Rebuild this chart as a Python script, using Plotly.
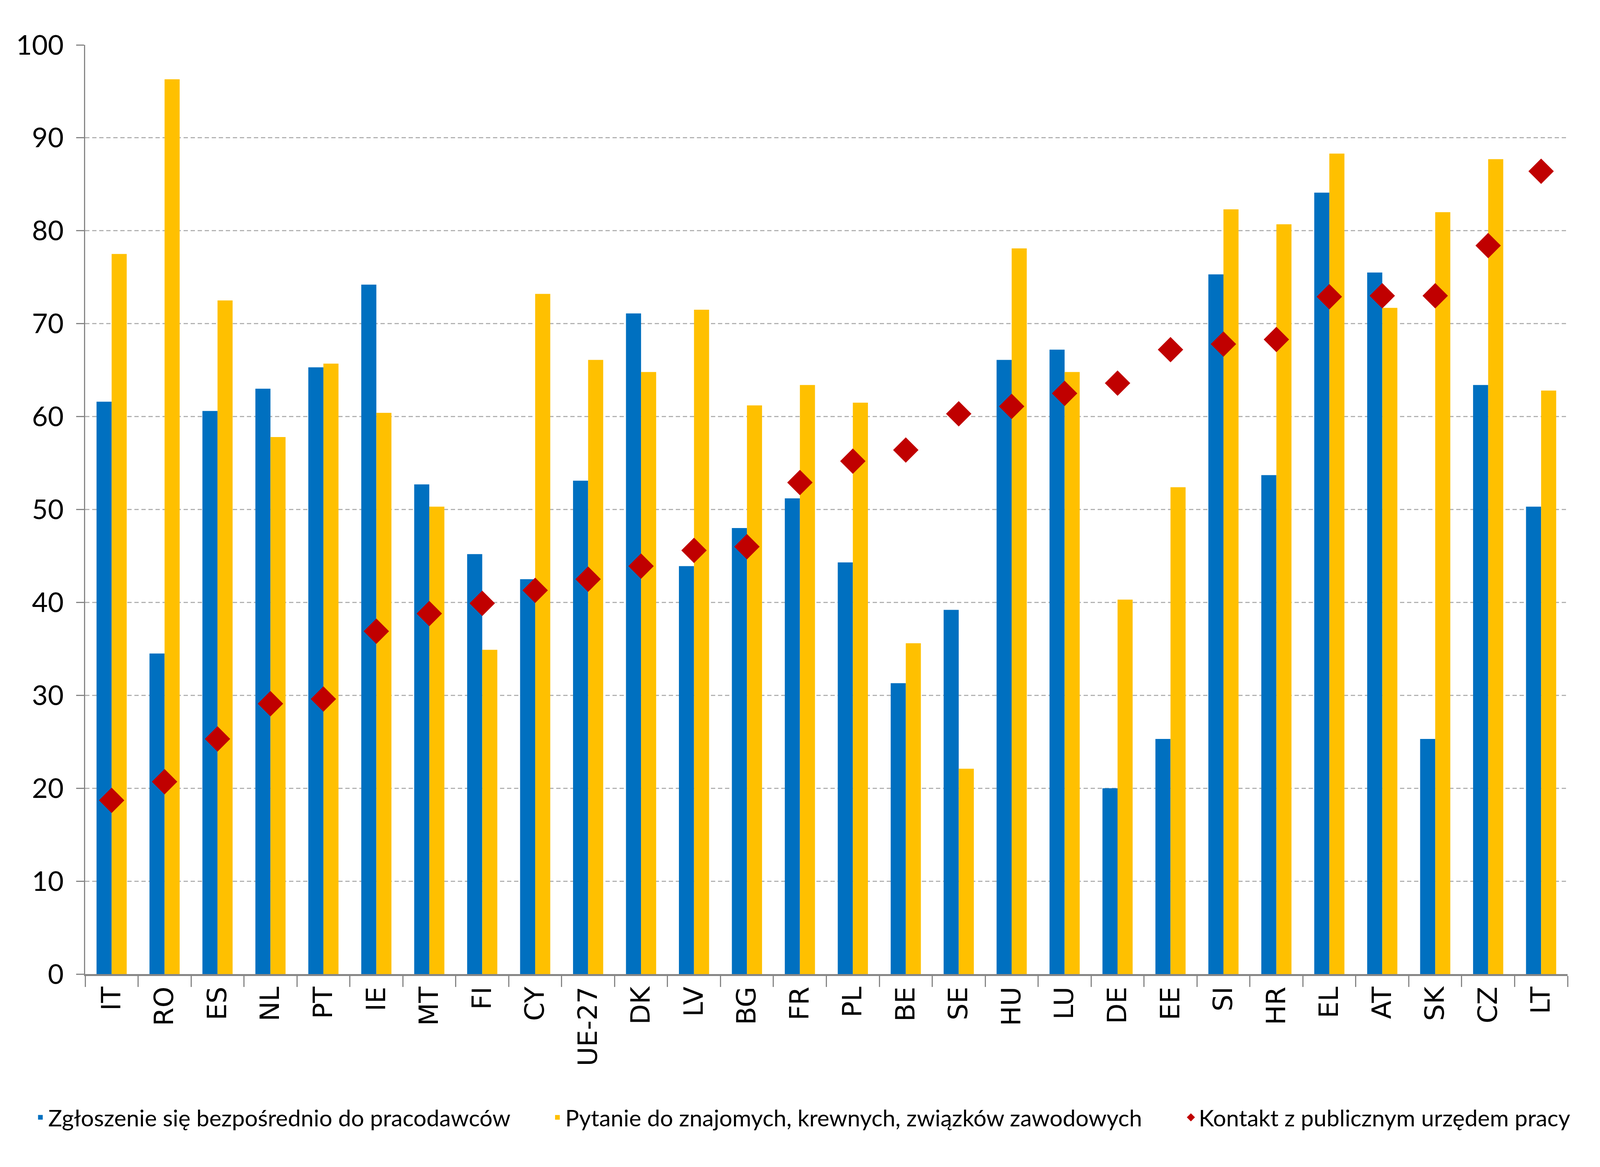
import plotly.graph_objects as go

categories = ["IT", "RO", "ES", "NL", "PT", "IE", "MT", "FI", "CY", "UE-27", "DK", "LV", "BG", "FR",
              "PL", "BE", "SE", "HU", "LU", "DE", "EE", "SI", "HR", "EL", "AT", "SK", "CZ", "LT"]

employers = [61.6, 34.5, 60.6, 63.0, 65.3, 74.2, 52.7, 45.2, 42.5, 53.1, 71.1, 43.9, 48.0, 51.2,
             44.3, 31.3, 39.2, 66.1, 67.2, 20.0, 25.3, 75.3, 53.7, 84.1, 75.5, 25.3, 63.4, 50.3]

friends = [77.5, 96.3, 72.5, 57.8, 65.7, 60.4, 50.3, 34.9, 73.2, 66.1, 64.8, 71.5, 61.2, 63.4,
           61.5, 35.6, 22.1, 78.1, 64.8, 40.3, 52.4, 82.3, 80.7, 88.3, 71.7, 82.0, 87.7, 62.8]

public_office = [18.7, 20.7, 25.3, 29.1, 29.6, 36.9, 38.8, 39.9, 41.3, 42.5, 43.9, 45.6, 46.0, 52.9,
                 55.2, 56.4, 60.3, 61.1, 62.5, 63.6, 67.2, 67.8, 68.3, 72.9, 73.0, 73.0, 78.4, 86.4]

names = ["Zgłoszenie się bezpośrednio do pracodawców",
         "Pytanie do znajomych, krewnych, związków zawodowych",
         "Kontakt z publicznym urzędem pracy"]

# reference geometry (5530 x 2988) mapped onto the visible page area
REF_W, REF_H = 5530, 2988
W, H = 4080, 2960
SX, SY = W / REF_W, H / REF_H

FONT = "Lato"

fig = go.Figure()
fig.add_trace(go.Bar(x=categories, y=employers, name=names[0], marker_color="#0070C0",
                     marker_line_width=0, legend="legend", showlegend=True))
fig.add_trace(go.Bar(x=categories, y=friends, name=names[1], marker_color="#FFC000",
                     marker_line_width=0, legend="legend2", showlegend=True))
fig.add_trace(go.Scatter(x=categories, y=public_office, name=names[2], mode="markers",
                         marker=dict(symbol="diamond", size=50, color="#C00000", line_width=0),
                         legend="legend3", showlegend=True))

def leg_x(text_start_ref):
    return (text_start_ref / REF_W * W - 50) / W

leg_common = dict(orientation="h", yanchor="middle", xanchor="left",
                  xref="container", yref="container", y=1 - 2880 / REF_H,
                  font=dict(family=FONT, size=59, color="black"),
                  bgcolor="rgba(0,0,0,0)", borderwidth=0, itemsizing="trace")

fig.update_layout(
    width=W, height=H,
    margin=dict(l=round(284 * SX), r=round(101 * SX), t=round(108 * SY), b=round(478 * SY),
                autoexpand=False),
    paper_bgcolor="white", plot_bgcolor="white",
    barmode="group", bargap=0.43, bargroupgap=0,
    showlegend=True,
    font=dict(family=FONT, color="black"),
    legend=dict(x=leg_x(170), **leg_common),
    legend2=dict(x=leg_x(1964), **leg_common),
    legend3=dict(x=leg_x(4162), **leg_common),
    xaxis=dict(
        type="category", range=[-0.5, len(categories) - 0.5],
        tickangle=-90, tickfont=dict(family="DejaVu Sans", size=68, color="black"),
        showline=True, linecolor="#868686", linewidth=5,
        ticks="outside", tickson="boundaries", ticklen=28, tickwidth=3, tickcolor="#868686",
        showgrid=False, zeroline=False,
    ),
    yaxis=dict(
        range=[0, 100], dtick=10, tick0=0,
        tickfont=dict(family=FONT, size=70, color="black"),
        showline=True, linecolor="#868686", linewidth=3,
        ticks="outside", ticklen=20, tickwidth=3, tickcolor="#868686",
        showgrid=True, gridcolor="#b3b3b3", gridwidth=3, griddash="11px,7px",
        zeroline=False, ticklabelstandoff=18,
    ),
)

fig.write_html("out.html")
